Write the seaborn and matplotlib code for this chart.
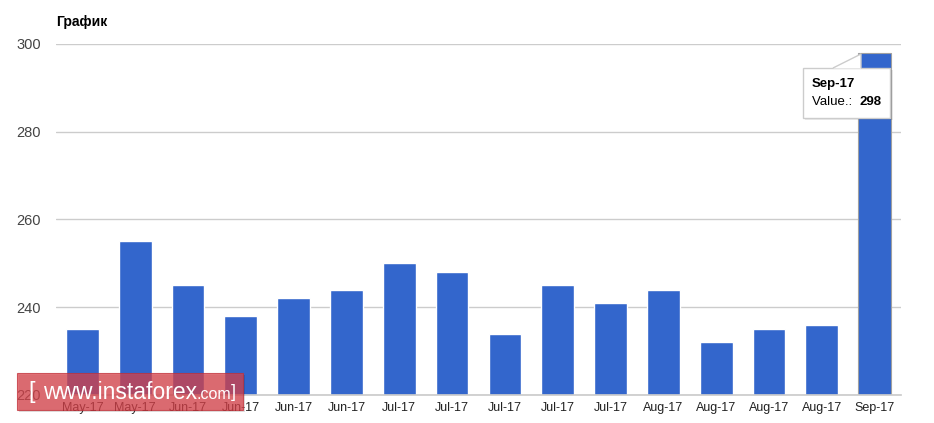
import matplotlib
matplotlib.use("Agg")
import matplotlib.pyplot as plt
import seaborn as sns
import pandas as pd
from matplotlib.patches import Rectangle, Polygon

labels = ["May-17", "May-17", "Jun-17", "Jun-17", "Jun-17", "Jun-17", "Jul-17", "Jul-17",
          "Jul-17", "Jul-17", "Jul-17", "Aug-17", "Aug-17", "Aug-17", "Aug-17", "Sep-17"]
values = [235, 255, 245, 238, 242, 244, 250, 248, 234, 245, 241, 244, 232, 235, 236, 298]
y_ticks = [220, 240, 260, 280, 300]
title = "График"

sns.set_theme(style="white")
plt.rcParams['font.family'] = ['Liberation Sans', 'DejaVu Sans']

W, H = 934, 423
fig = plt.figure(figsize=(W / 100, H / 100), dpi=100)
ax = fig.add_axes([56 / W, 1 - 395 / H, (901 - 56) / W, (395 - 44) / H])

df = pd.DataFrame({"pos": list(range(len(values))), "value": values})
sns.barplot(data=df, x="pos", y="value", color="#3366CC", saturation=1, width=0.62, ax=ax)
# highlight last bar border
ax.patches[-1].set_edgecolor("#a0a0a0")
ax.patches[-1].set_linewidth(0.8)

ax.set_ylim(220, 300)
ax.set_xlim(-0.5, len(values) - 0.5)
ax.set_yticks(y_ticks)
ax.set_yticklabels([str(t) for t in y_ticks], color="#444444", fontsize=10.5)
ax.set_xticks(range(len(values)))
ax.set_xticklabels(labels, color="#222222", fontsize=9)
ax.tick_params(axis="both", length=0)
ax.tick_params(axis="y", pad=11)
ax.tick_params(axis="x", pad=5)
ax.grid(axis="y", color="#cccccc", linewidth=1)
ax.set_axisbelow(True)
for s in ["top", "right", "left"]:
    ax.spines[s].set_visible(False)
ax.spines["bottom"].set_color("#cccccc")
ax.set_xlabel("")
ax.set_ylabel("")

fig.text(56 / W, 1 - 22 / H, title, fontsize=10, fontweight="bold", color="#000000", va="center", ha="left")

def fx(x):
    return x / W

def fy(y):
    return 1 - y / H

# tooltip
shadow = Rectangle((fx(805), fy(120)), fx(88), 50 / H, transform=fig.transFigure,
                   facecolor="#000000", alpha=0.08, edgecolor="none", zorder=9)
fig.add_artist(shadow)
box = Rectangle((fx(803), fy(118)), fx(87), 50 / H, transform=fig.transFigure,
                facecolor="white", edgecolor="#cccccc", linewidth=1, zorder=10)
fig.add_artist(box)
tail_fill = Polygon([(fx(833), fy(68.5)), (fx(861), fy(54)), (fx(861), fy(68.5))], closed=True,
                    transform=fig.transFigure, facecolor="white", edgecolor="none", zorder=11)
fig.add_artist(tail_fill)
tail = Polygon([(fx(833), fy(68)), (fx(861), fy(54)), (fx(861), fy(68))], closed=False,
               transform=fig.transFigure, facecolor="none", edgecolor="#cccccc", linewidth=1, zorder=12)
fig.add_artist(tail)
fig.text(fx(812), fy(84), labels[-1], fontsize=9.5, fontweight="bold", color="#000000",
         va="center", ha="left", zorder=13)
fig.text(fx(812), fy(102), "Value.: ", fontsize=9.5, color="#000000", va="center", ha="left", zorder=13)
fig.text(fx(859), fy(102), str(values[-1]), fontsize=9.5, fontweight="bold", color="#000000",
         va="center", ha="left", zorder=13)

# watermark
wm_shadow = Rectangle((fx(19), fy(412)), fx(226), 37 / H, transform=fig.transFigure,
                      facecolor="#000000", alpha=0.12, edgecolor="none", zorder=14)
fig.add_artist(wm_shadow)
wm = Rectangle((fx(17), fy(410)), fx(226), 37 / H, transform=fig.transFigure,
               facecolor="#d9434b", alpha=0.75, edgecolor="#c03038", linewidth=0.8, zorder=15)
fig.add_artist(wm)
fig.text(fx(28), fy(392), "[", fontsize=17, color="white", va="center", ha="left", zorder=16)
fig.text(fx(43), fy(392), "www.instaforex", fontsize=16.5, color="white", va="center", ha="left", zorder=16)
fig.text(fx(196), fy(394), ".com", fontsize=11.5, color="white", va="center", ha="left", zorder=16)
fig.text(fx(231), fy(392), "]", fontsize=13, color="white", va="center", ha="left", zorder=16)

fig.savefig("out.png", dpi=100)
